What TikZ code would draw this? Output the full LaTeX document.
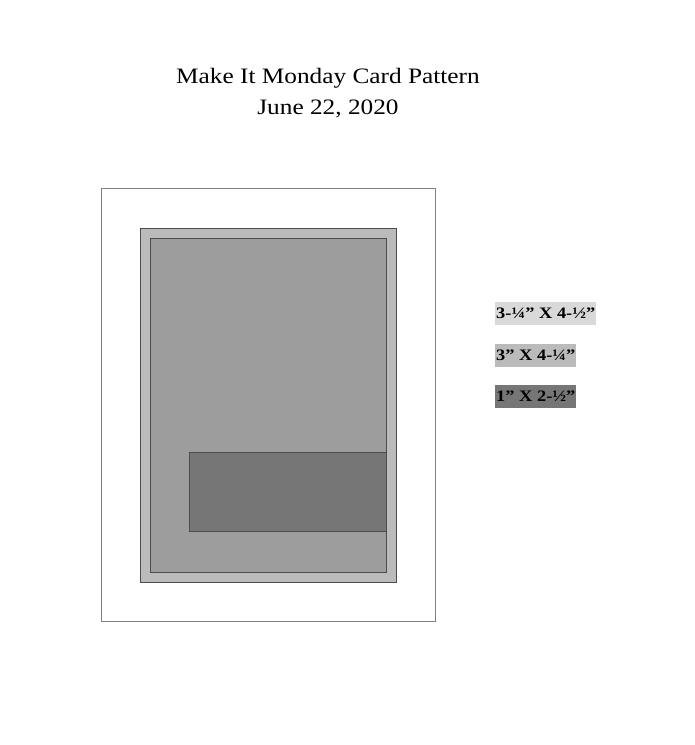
\documentclass[tikz,border=0pt]{standalone}
\usepackage{fontspec}
\setmainfont{Liberation Serif}
\newfontfamily\widefont[FakeStretch=1.15]{Liberation Serif}
\tikzset{
  panel/.style={draw=black!70, line width=0.6pt},
  swatch/.style={anchor=west, inner xsep=1pt, inner ysep=0pt, minimum height=23pt, font=\widefont\bfseries\fontsize{16}{18}\selectfont},
}
\definecolor{mat}{HTML}{BBBBBB}
\definecolor{layer}{HTML}{9D9D9D}
\definecolor{strip}{HTML}{767676}
\begin{document}
\begin{tikzpicture}[x=1pt,y=-1pt]
    \useasboundingbox [fill=white] (0,0) rectangle (695,745);

    % title
    \node [font=\widefont\fontsize{22}{31}\selectfont, align=center] (title) at (328,93) {Make It Monday Card Pattern\\June 22, 2020};

    % card layers
    \draw [draw=black!50, line width=0.6pt, fill=white] (101,188) rectangle (435,621);
    \draw [panel, fill=mat] (140,228) rectangle (396,582);
    \draw [panel, fill=layer] (150,238) rectangle (386,572);
    \draw [panel, fill=strip] (189,452) rectangle (386,531);

    % sizes
    \node [swatch, fill=black!15] (s1) at (495,313.5) {3-¼” X 4-½”};
    \node [swatch, fill=mat] (s2) at (495,355) {3” X 4-¼”};
    \node [swatch, fill=strip] (s3) at (495,396.5) {1” X 2-½”};
\end{tikzpicture}
\end{document}
